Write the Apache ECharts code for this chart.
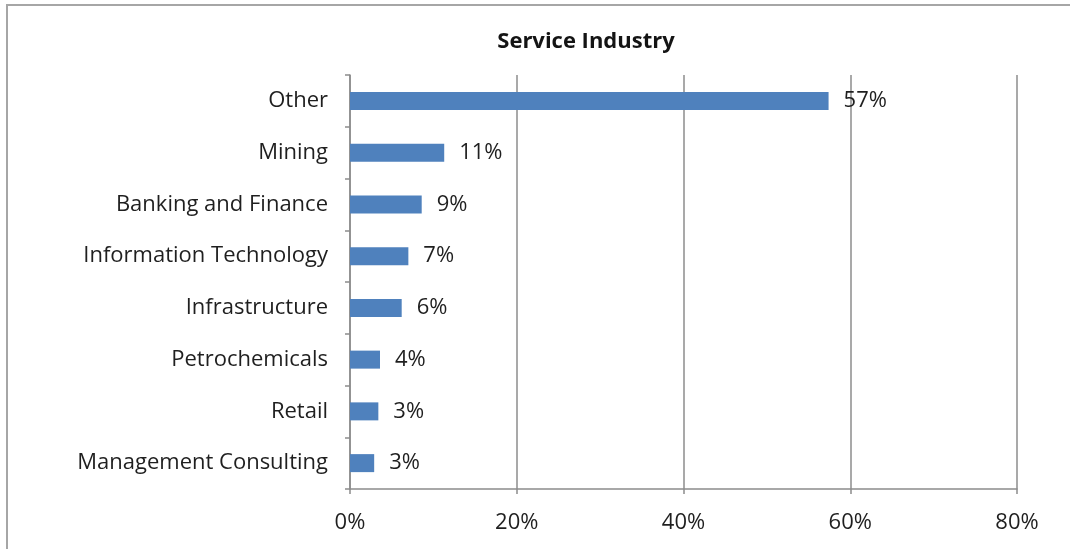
<!DOCTYPE html>
<html>
<head>
<meta charset="utf-8">
<title>Service Industry</title>
<script src="https://cdn.jsdelivr.net/npm/echarts@6/dist/echarts.min.js"></script>
<style>
  html, body { margin: 0; padding: 0; background: #ffffff; }
  #chart { width: 1070px; height: 549px; }
</style>
</head>
<body>
<div id="chart"></div>
<script>
// Share of respondents by service industry (percent)
const categories = [
  'Other',
  'Mining',
  'Banking and Finance',
  'Information Technology',
  'Infrastructure',
  'Petrochemicals',
  'Retail',
  'Management Consulting'
];
const shares = [57.4, 11.3, 8.6, 7.0, 6.2, 3.6, 3.4, 2.9];
const percentTicks = [0, 20, 40, 60, 80];

const FONT = '"Open Sans", "Noto Sans", sans-serif';
const GRID_GRAY = '#8c8c8c';
const TEXT = '#1f1f1f';

const chart = echarts.init(document.getElementById('chart'), null, { renderer: 'canvas' });

chart.setOption({
  backgroundColor: '#ffffff',
  animation: false,
  title: {
    text: 'Service Industry',
    left: 581,
    top: 26,
    textAlign: 'center',
    textStyle: { fontFamily: FONT, fontSize: 22, fontWeight: 'bold', color: '#141414' }
  },
  graphic: [{
    type: 'rect',
    silent: true,
    shape: { x: 7, y: 5, width: 1200, height: 700 },
    style: { fill: 'none', stroke: '#a6a6a6', lineWidth: 2 }
  }],
  grid: { left: 350, right: 53, top: 75, bottom: 60, containLabel: false },
  xAxis: {
    type: 'value',
    min: percentTicks[0],
    max: percentTicks[percentTicks.length - 1],
    interval: percentTicks[1] - percentTicks[0],
    axisLine: { show: true, lineStyle: { color: GRID_GRAY, width: 1.5 } },
    axisTick: { show: true, length: 5, lineStyle: { color: GRID_GRAY, width: 1.5 } },
    splitLine: { show: true, lineStyle: { color: GRID_GRAY, width: 1.5 } },
    axisLabel: {
      formatter: '{value}%',
      margin: 23,
      fontFamily: FONT,
      fontSize: 22,
      color: TEXT
    }
  },
  yAxis: {
    type: 'category',
    data: categories,
    inverse: true,
    axisLine: { show: true, lineStyle: { color: GRID_GRAY, width: 1.5 } },
    axisTick: { show: true, length: 5, alignWithLabel: false, lineStyle: { color: GRID_GRAY, width: 1.5 } },
    splitLine: { show: false },
    axisLabel: {
      margin: 22,
      fontFamily: FONT,
      fontSize: 22,
      color: TEXT
    }
  },
  series: [{
    type: 'bar',
    data: shares,
    barWidth: 18,
    itemStyle: { color: '#4f81bd' },
    label: {
      show: true,
      position: 'right',
      distance: 15,
      formatter: p => Math.round(p.value) + '%',
      fontFamily: FONT,
      fontSize: 22,
      color: TEXT
    }
  }]
});
</script>
</body>
</html>
